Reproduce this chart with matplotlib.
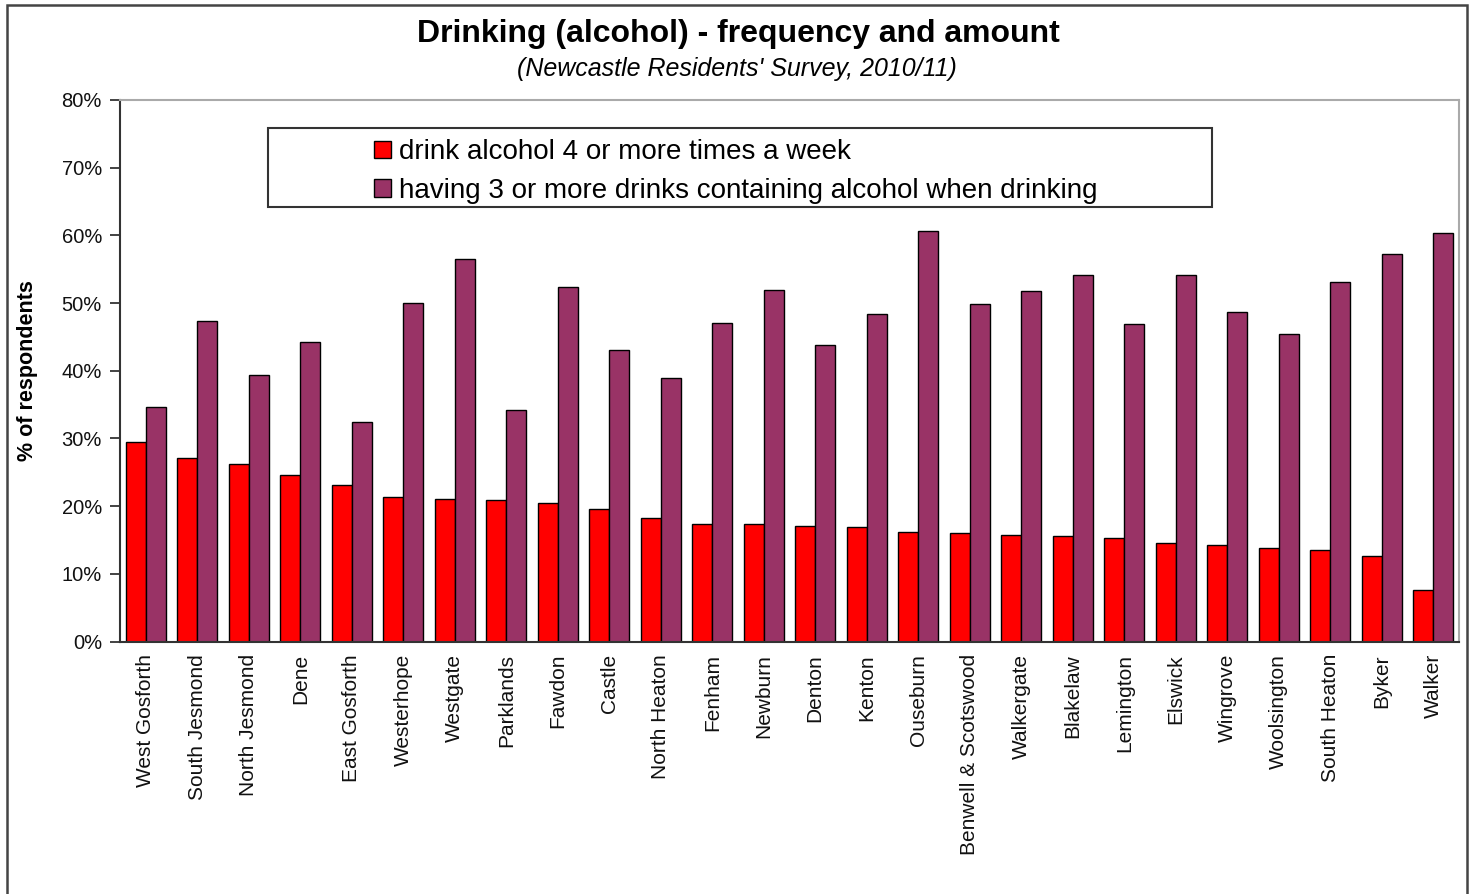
import matplotlib
matplotlib.use("Agg")
import matplotlib.pyplot as plt
import numpy as np
from matplotlib.patches import Rectangle
from matplotlib.ticker import FuncFormatter, MultipleLocator

plt.rcParams['font.family'] = ['Liberation Sans', 'DejaVu Sans']

wards = ["West Gosforth", "South Jesmond", "North Jesmond", "Dene", "East Gosforth",
         "Westerhope", "Westgate", "Parklands", "Fawdon", "Castle", "North Heaton",
         "Fenham", "Newburn", "Denton", "Kenton", "Ouseburn", "Benwell & Scotswood",
         "Walkergate", "Blakelaw", "Lemington", "Elswick", "Wingrove", "Woolsington",
         "South Heaton", "Byker", "Walker"]

freq_4plus = [29.4, 27.1, 26.2, 24.6, 23.1, 21.3, 21.1, 20.9, 20.4, 19.6, 18.2,
              17.4, 17.4, 17.1, 16.9, 16.2, 16.0, 15.7, 15.6, 15.3, 14.5, 14.3,
              13.8, 13.5, 12.7, 7.6]

drinks_3plus = [34.7, 47.4, 39.4, 44.2, 32.4, 50.0, 56.5, 34.2, 52.4, 43.1, 38.9,
                47.1, 52.0, 43.8, 48.4, 60.7, 49.8, 51.8, 54.2, 46.9, 54.2, 48.7,
                45.5, 53.1, 57.3, 60.4]

series_labels = ["drink alcohol 4 or more times a week",
                 "having 3 or more drinks containing alcohol when drinking"]

W, H = 1474, 894
fig = plt.figure(figsize=(W / 100, H / 100), dpi=100)
fig.patch.set_facecolor("white")

# outer chart border (open at the bottom)
fig.patches.append(Rectangle((7 / W, -0.02), 1460 / W, (H - 5) / H + 0.02,
                             transform=fig.transFigure, fill=False,
                             edgecolor="#444444", linewidth=1.8, zorder=0))

ax = fig.add_axes([120 / W, 1 - 641.5 / H, (1459 - 120) / W, (641.5 - 100) / H])

x = np.arange(len(wards))
w = 0.39
ax.bar(x - w / 2, freq_4plus, width=w, color="#FF0000", edgecolor="black",
       linewidth=1.0, label=series_labels[0], zorder=2)
ax.bar(x + w / 2, drinks_3plus, width=w, color="#993366", edgecolor="black",
       linewidth=1.0, label=series_labels[1], zorder=2)

ax.set_xlim(-0.5, len(wards) - 0.5)
ax.set_ylim(0, 80)
ax.yaxis.set_major_locator(MultipleLocator(10))
ax.yaxis.set_major_formatter(FuncFormatter(lambda v, p: f"{v:.0f}%"))

ax.set_xticks(x)
ax.set_xticklabels(wards, rotation=90, fontsize=15, color="#111111")
ax.tick_params(axis="x", length=0, pad=9)
ax.tick_params(axis="y", length=7, width=1.2, direction="out", labelsize=14.5,
               pad=6, colors="#222222", labelcolor="#111111")

for side in ("left", "bottom"):
    ax.spines[side].set_color("#333333")
    ax.spines[side].set_linewidth(1.5)
for side in ("top", "right"):
    ax.spines[side].set_color("#aaaaaa")
    ax.spines[side].set_linewidth(1.5)

ax.set_ylabel("% of respondents", fontsize=15.5, fontweight="bold")
ax.yaxis.set_label_coords(-0.061, 0.5)

fig.text(738 / W, 1 - 34 / H, "Drinking (alcohol) - frequency and amount",
         ha="center", va="center", fontsize=23, fontweight="bold")
fig.text(737 / W, 1 - 69 / H, "(Newcastle Residents' Survey, 2010/11)",
         ha="center", va="center", fontsize=18, style="italic")

# legend frame
fig.patches.append(Rectangle((268 / W, 1 - 207 / H), (1212 - 268) / W, (207 - 128) / H,
                             transform=fig.transFigure, facecolor="white",
                             edgecolor="#333333", linewidth=1.5, zorder=5))
leg = fig.legend(loc="upper left", bbox_to_anchor=(355 / W, 1 - 120 / H),
                 frameon=False, fontsize=20, handlelength=0.6, handleheight=0.6,
                 handletextpad=0.3, labelspacing=0.45, borderpad=0.2)
leg.set_zorder(6)

fig.savefig("out.png", dpi=100, facecolor="white")
